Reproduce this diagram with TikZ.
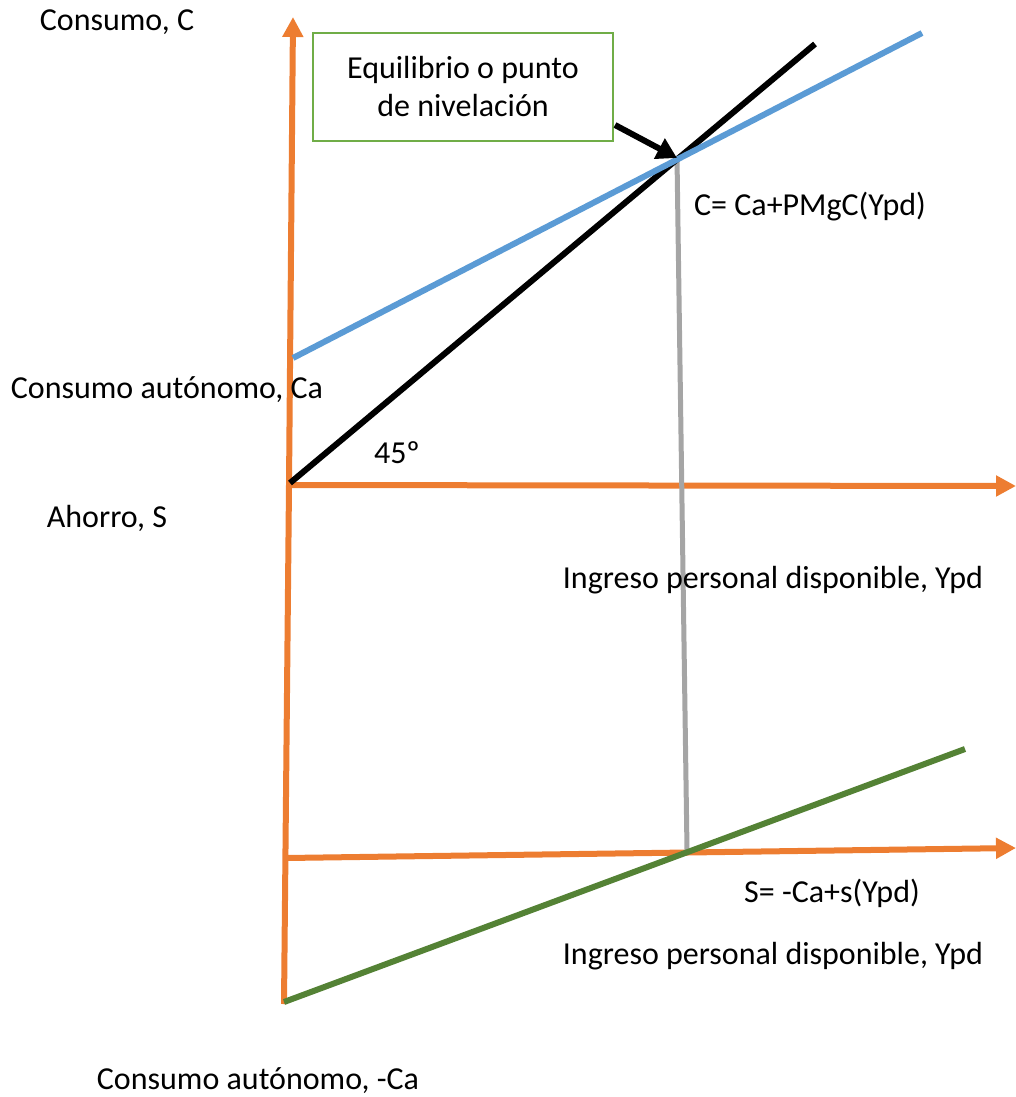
\documentclass[tikz,border=0pt]{standalone}
\usepackage{fontspec}
\setmainfont{Carlito}
\usetikzlibrary{arrows.meta}
\definecolor{axisorange}{HTML}{ED7D31}
\definecolor{consblue}{HTML}{5B9BD5}
\definecolor{savgreen}{HTML}{548235}
\definecolor{boxgreen}{HTML}{70AD47}
\definecolor{guidegray}{HTML}{A5A5A5}
\tikzset{
  axis/.style={draw=axisorange, line width=6pt, -{Triangle[length=20pt,width=20pt]}},
  axisplain/.style={draw=axisorange, line width=6pt},
  lbl/.style={font=\fontsize{32}{38}\selectfont, inner sep=0pt},
  callout/.style={draw=boxgreen, line width=2pt, minimum width=300pt, minimum height=108pt,
    align=center, font=\fontsize{32}{38}\selectfont},
  pointer/.style={draw=black, line width=6pt, -{Triangle[length=20pt,width=22pt]}}
}
\begin{document}
\begin{tikzpicture}[x=1pt,y=-1pt]
\useasboundingbox (0,0) rectangle (1015,1097);
% axis geometry
\coordinate (vtop) at (293,17);
\coordinate (vbot) at (284,1004);
\coordinate (o1) at (289,485);
\coordinate (x1end) at (1016,486);
\coordinate (o2) at (286,858);
\coordinate (x2end) at (1016,848);
% curves
\coordinate (b0) at (290,483);
\coordinate (b1) at (815,44);
\coordinate (c0) at (293,358);
\coordinate (c1) at (922,33);
\coordinate (eq) at (677,158);
\coordinate (eqlow) at (687,850);
\coordinate (s0) at (284,1002);
\coordinate (s1) at (965,749);

% axes
\draw[axisplain] (vbot) -- (o1);
\draw[axis] (o1) -- (vtop);
\draw[axis] (o1) -- (x1end);
\draw[axis] (o2) -- (x2end);

% gray guide from equilibrium down to lower axis
\draw[guidegray, line width=5pt] (eq) -- (eqlow);
% 45 degree line
\draw[black, line width=6pt] (b0) -- (b1);
% consumption function
\draw[consblue, line width=6pt] (c0) -- (c1);
% saving function
\draw[savgreen, line width=6pt] (s0) -- (s1);

% callout box and pointer
\node[callout] (box) at (463,87) {Equilibrio o punto\\de nivelación};
\coordinate (ptr) at (615,125);
\draw[pointer] (ptr) -- (eq);

% labels
\node[lbl] (lc) at (117,22) {Consumo, C};
\node[lbl] (lcf) at (810,207) {C= Ca+PMgC(Ypd)};
\node[lbl] (lca) at (167,390) {Consumo autónomo, Ca};
\node[lbl] (l45) at (397,453) {45º};
\node[lbl] (ls) at (107,518) {Ahorro, S};
\node[lbl] (ly1) at (773,580) {Ingreso personal disponible, Ypd};
\node[lbl] (lsf) at (832,893) {S= -Ca+s(Ypd)};
\node[lbl] (ly2) at (773,956) {Ingreso personal disponible, Ypd};
\node[lbl] (lmca) at (258,1081) {Consumo autónomo, -Ca};
\end{tikzpicture}
\end{document}
